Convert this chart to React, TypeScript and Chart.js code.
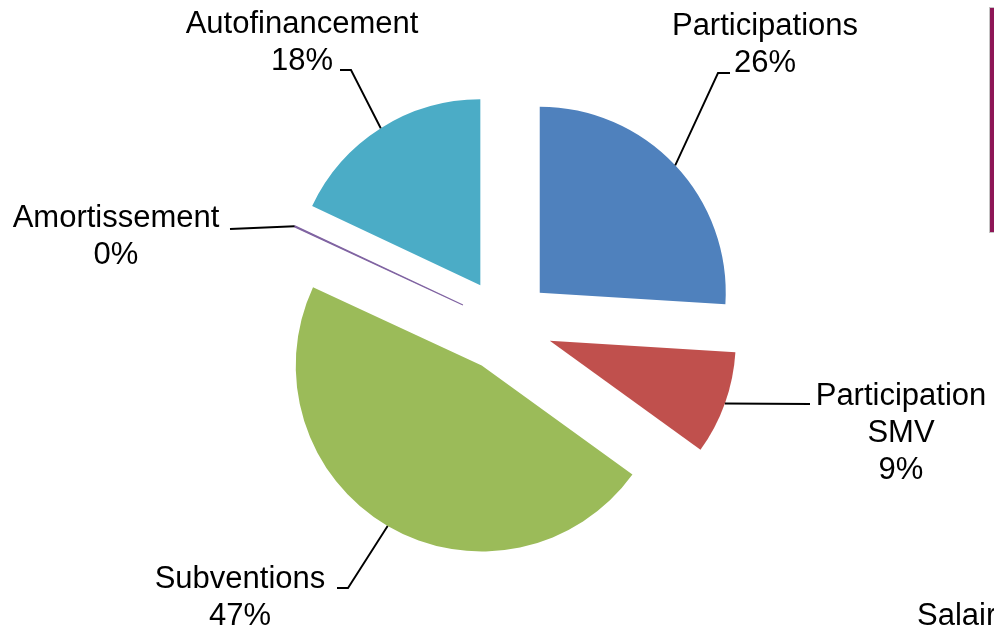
import React, { useEffect, useRef } from "react";
import { Chart, registerables } from "chart.js";

Chart.register(...registerables);

// ---- data ----
const categories = [
  "Participations",
  "Participation SMV",
  "Subventions",
  "Amortissement",
  "Autofinancement",
];
const values = [26, 9, 47, 0.1, 18];
const colors = ["#4F81BD", "#C0504D", "#9BBB59", "#8064A2", "#4BACC6"];
const cutLegendText = "Salair";

// ---- layout (label anchors and leader-line elbows) ----
const EXPLODE = 47;
const RADIUS = 186;
const FONT = '31px "Liberation Sans", Arial, sans-serif';
const LINE_H = 37;
const labelLayout = [
  { cx: 765, base: 35, wrap: false, elbow: [[718, 73], [730, 73]] },
  { cx: 901, base: 405, wrap: true, elbow: [[810, 404]] },
  { cx: 240, base: 588, wrap: false, elbow: [[348, 588], [337, 588]] },
  { cx: 116, base: 227, wrap: false, elbow: [[230, 229]] },
  { cx: 302, base: 33, wrap: false, elbow: [[351, 70], [340, 70]] },
];

const explodePlugin = {
  id: "explode",
  beforeDatasetDraw(chart: any, args: any) {
    const ctx = chart.ctx;
    args.meta.data.forEach((arc: any) => {
      const mid = (arc.startAngle + arc.endAngle) / 2;
      ctx.save();
      ctx.translate(Math.cos(mid) * EXPLODE, Math.sin(mid) * EXPLODE);
      arc.draw(ctx);
      ctx.restore();
    });
    return false;
  },
};

const labelPlugin = {
  id: "outerLabels",
  afterDraw(chart: any) {
    const ctx = chart.ctx;
    const meta = chart.getDatasetMeta(0);
    const data = chart.data.datasets[0].data as number[];
    const total = data.reduce((a, b) => a + b, 0);
    ctx.save();
    meta.data.forEach((arc: any, i: number) => {
      const lay = labelLayout[i];
      const mid = (arc.startAngle + arc.endAngle) / 2;
      const r = arc.outerRadius + EXPLODE;
      const sx = arc.x + Math.cos(mid) * r;
      const sy = arc.y + Math.sin(mid) * r;
      ctx.beginPath();
      ctx.moveTo(sx, sy);
      lay.elbow.forEach(([x, y]) => ctx.lineTo(x, y));
      ctx.strokeStyle = "#000";
      ctx.lineWidth = 1.9;
      ctx.stroke();

      const name = chart.data.labels[i] as string;
      const lines = lay.wrap ? name.split(" ") : [name];
      lines.push(Math.round((data[i] / total) * 100) + "%");
      ctx.font = FONT;
      ctx.fillStyle = "#000";
      ctx.textAlign = "center";
      ctx.textBaseline = "alphabetic";
      lines.forEach((t, k) => ctx.fillText(t, lay.cx, lay.base + k * LINE_H));
    });

    // partially visible legend box at right edge
    ctx.fillStyle = "#8E1657";
    ctx.fillRect(990, 8, 10, 224);
    ctx.strokeStyle = "#c4c4c4";
    ctx.lineWidth = 1;
    ctx.strokeRect(989.5, 7.5, 20, 225);

    ctx.font = FONT;
    ctx.fillStyle = "#000";
    ctx.textAlign = "left";
    ctx.fillText(cutLegendText, 917, 625);
    ctx.restore();
  },
};

export default function App() {
  const ref = useRef<HTMLCanvasElement | null>(null);
  useEffect(() => {
    if (!ref.current) return;
    const chart = new Chart(ref.current, {
      type: "pie",
      data: {
        labels: categories,
        datasets: [
          {
            data: values,
            backgroundColor: colors,
            borderColor: colors,
            borderWidth: [0, 0, 0, 1.2, 0],
          },
        ],
      },
      options: {
        responsive: false,
        animation: false,
        radius: RADIUS,
        layout: { padding: { left: 17, right: 0, top: 21, bottom: 0 } },
        plugins: {
          legend: { display: false },
          tooltip: { enabled: false },
        },
      } as any,
      plugins: [explodePlugin, labelPlugin],
    });
    return () => chart.destroy();
  }, []);
  return (
    <div
      style={{
        position: "fixed",
        left: 0,
        top: 0,
        width: 994,
        height: 629,
        overflow: "hidden",
        background: "#fff",
      }}
    >
      <canvas ref={ref} width={994} height={629} style={{ display: "block" }} />
    </div>
  );
}
